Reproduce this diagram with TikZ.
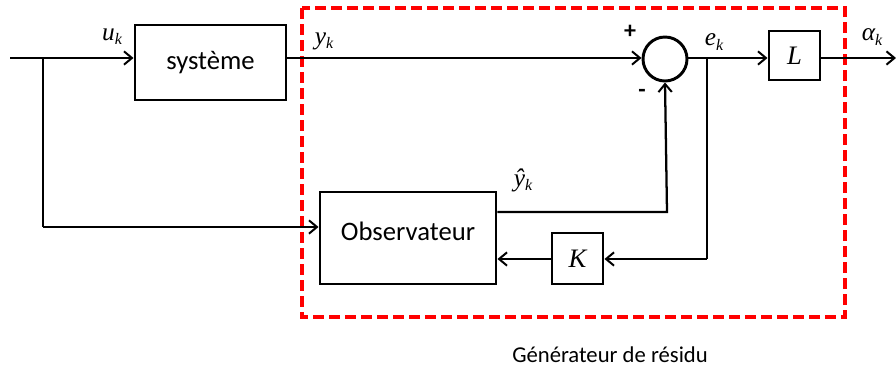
\documentclass[tikz,border=0pt]{standalone}
\usepackage{fontspec}
\setmainfont{Carlito}
\newfontfamily\tnr{Liberation Serif}
\usetikzlibrary{arrows.meta}
\newcommand{\lab}[2]{{\tnr\itshape\fontsize{19}{19}\selectfont #1\raisebox{-0.35ex}{\fontsize{12}{12}\selectfont #2}}}
\begin{document}
\begin{tikzpicture}[x=0.75pt,y=-0.75pt,
  blk/.style={draw,line width=2.2pt,inner sep=0pt,font=\fontsize{20}{20}\selectfont},
  wire/.style={line width=1.7pt},
  arr/.style={wire,-{Straight Barb[length=6pt,width=10pt,line width=1.5pt]}},
  lbl/.style={inner sep=0pt}]
\useasboundingbox (0,0) rectangle (896,372);
% red dashed group
\draw[red,line width=2.3pt,dash pattern=on 8pt off 4pt] (302,8) rectangle (845,317);
% blocks
\node[blk,minimum width=151*0.75pt,minimum height=75*0.75pt] (sys) at (210.5,62.5) {système};
\node[draw,circle,line width=2.2pt,minimum size=44*0.75pt,inner sep=0pt] (sum) at (665,59) {};
\node[blk,minimum width=51*0.75pt,minimum height=49*0.75pt] (L) at (794.5,55.5) {\tnr\itshape\fontsize{20}{20}\selectfont L};
\node[blk,minimum width=176*0.75pt,minimum height=92*0.75pt] (obs) at (408,238) {\raisebox{-1.5pt}[0pt][0pt]{Observateur}};
\node[blk,minimum width=51*0.75pt,minimum height=51*0.75pt] (K) at (577.5,258.5) {\tnr\itshape\fontsize{20}{20}\selectfont K};
% coordinates
\coordinate (in) at (10,58);
\coordinate (br) at (43,58);
\coordinate (ebr) at (707,58);
\coordinate (out) at (896,58);
\coordinate (c1) at (43,227);
\coordinate (c2) at (667,212);
\coordinate (c3) at (707,259);
% wires
\draw[arr] (in) -- (sys.west|-in);
\draw[wire] (br) -- (c1);
\draw[arr] (c1) -- (obs.west|-c1);
\draw[arr] (sys.east|-in) -- (sum.west|-in);
\draw[arr] (sum.east|-in) -- (L.west|-in);
\draw[arr] (L.east|-in) -- (out);
\draw[arr] (obs.east|-c2) -- (c2) -- (sum.south);
\draw[wire] (ebr) -- (c3);
\draw[arr] (c3) -- (K.east|-c3);
\draw[arr] (K.west|-c3) -- (obs.east|-c3);
% labels
\node[lbl] (lu) at (112,37) {\lab{u}{k}};
\node[lbl] (ly) at (324,41) {\lab{y}{k}};
\node[lbl] (le) at (714,42) {\lab{e}{k}};
\node[lbl] (la) at (872,37) {\lab{α}{k}};
\node[lbl] (lyh) at (523,180) {\lab{\^y}{k}};
\node[lbl,font=\bfseries\fontsize{18}{18}\selectfont] (lp) at (630,32) {+};
\node[lbl,font=\bfseries\fontsize{18}{18}\selectfont] (lm) at (642,93) {-};
\node[lbl,font=\fontsize{17}{17}\selectfont] (gen) at (610,355) {Générateur de résidu};
\end{tikzpicture}
\end{document}
